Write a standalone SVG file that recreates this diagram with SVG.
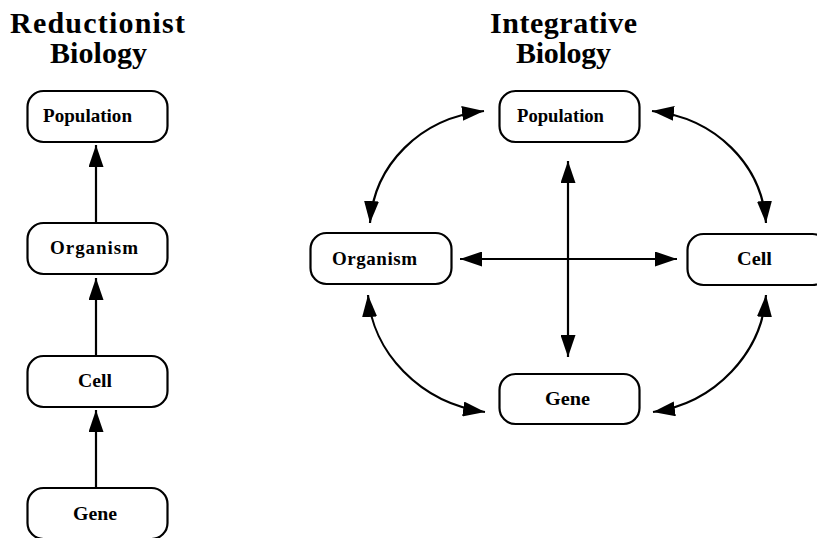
<svg xmlns="http://www.w3.org/2000/svg" width="817" height="538" viewBox="0 0 817 538">
  <defs>
    <marker id="ah" markerUnits="userSpaceOnUse" viewBox="0 0 22 15" refX="22" refY="7.5" markerWidth="22" markerHeight="15" orient="auto-start-reverse">
      <path d="M0,0 L22,7.5 L0,15 z" fill="#000"/>
    </marker>
    <style>
      .box { fill: #fff; stroke: #000; stroke-width: 2.2; }
      .lbl { font-family: "Liberation Serif", "Times New Roman", serif; font-weight: bold; font-size: 19px; fill: #000; }
      .ttl { font-family: "Liberation Serif", "Times New Roman", serif; font-weight: bold; font-size: 30px; fill: #000; }
      .ln { fill: none; stroke: #000; stroke-width: 2.2; }
      .one { marker-end: url(#ah); }
      .two { marker-start: url(#ah); marker-end: url(#ah); }
    </style>
  </defs>
  <rect width="817" height="538" fill="#fff"/>

  <g id="titles">
    <text class="ttl" x="10" y="33" textLength="175" lengthAdjust="spacing">Reductionist</text>
    <text class="ttl" x="50" y="63" textLength="97" lengthAdjust="spacing">Biology</text>
    <text class="ttl" x="490" y="33" textLength="147" lengthAdjust="spacing">Integrative</text>
    <text class="ttl" x="516" y="63" textLength="95" lengthAdjust="spacing">Biology</text>
  </g>

  <g id="connectors">
    <path class="ln one" d="M96,223 L96,145"/>
    <path class="ln one" d="M96,356 L96,278"/>
    <path class="ln one" d="M96,488 L96,410"/>
    <path class="ln two" d="M460,259 L677,259"/>
    <path class="ln two" d="M568,161 L568,357"/>
    <path class="ln two" d="M370,223 C374,165 420,118 484,111"/>
    <path class="ln two" d="M652,111 C716,118 762,165 766,223"/>
    <path class="ln two" d="M368,295 C372,352 420,403 485,412"/>
    <path class="ln two" d="M766,295 C762,352 716,403 653,412"/>
  </g>

  <g id="red-population">
    <rect class="box" x="27.5" y="91" width="140" height="51" rx="16"/>
    <text class="lbl" x="43" y="122" textLength="89" lengthAdjust="spacingAndGlyphs">Population</text>
  </g>
  <g id="red-organism">
    <rect class="box" x="27.5" y="223" width="140" height="51" rx="16"/>
    <text class="lbl" x="50" y="254" textLength="88" lengthAdjust="spacing">Organism</text>
  </g>
  <g id="red-cell">
    <rect class="box" x="27.5" y="356" width="140" height="51" rx="16"/>
    <text class="lbl" x="78" y="387" textLength="34" lengthAdjust="spacingAndGlyphs">Cell</text>
  </g>
  <g id="red-gene">
    <rect class="box" x="27.5" y="488" width="140" height="51" rx="16"/>
    <text class="lbl" x="73" y="520" textLength="44" lengthAdjust="spacingAndGlyphs">Gene</text>
  </g>

  <g id="int-population">
    <rect class="box" x="499.5" y="91" width="140" height="51" rx="16"/>
    <text class="lbl" x="517" y="122" textLength="87" lengthAdjust="spacingAndGlyphs">Population</text>
  </g>
  <g id="int-organism">
    <rect class="box" x="310.5" y="233" width="141" height="51" rx="16"/>
    <text class="lbl" x="332" y="265" textLength="85" lengthAdjust="spacing">Organism</text>
  </g>
  <g id="int-cell">
    <rect class="box" x="687.5" y="234" width="141" height="51" rx="16"/>
    <text class="lbl" x="737" y="265" textLength="35" lengthAdjust="spacingAndGlyphs">Cell</text>
  </g>
  <g id="int-gene">
    <rect class="box" x="499.5" y="374" width="140" height="50" rx="16"/>
    <text class="lbl" x="545" y="405" textLength="45" lengthAdjust="spacingAndGlyphs">Gene</text>
  </g>
</svg>
